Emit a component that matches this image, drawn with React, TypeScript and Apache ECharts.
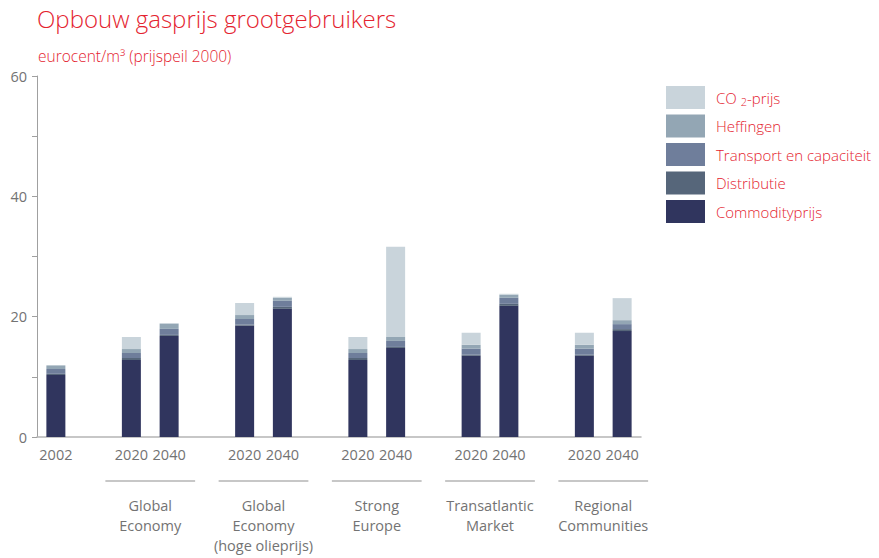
import React, { useEffect, useRef } from "react";
import * as echarts from "echarts";

const categories = ["2002", "", "2020", "2040", "", "2020", "2040", "", "2020", "2040", "", "2020", "2040", "", "2020", "2040"];
const commodity = [10.3, "-", 12.8, 16.8, "-", 18.5, 21.3, "-", 12.8, 14.8, "-", 13.5, 21.8, "-", 13.5, 17.6];
const distributie = [0.2, "-", 0.33, 0.17, "-", 0.17, 0.33, "-", 0.33, 0.17, "-", 0.17, 0.33, "-", 0.17, 0.33];
const transport = [0.8, "-", 0.83, 1.0, "-", 0.94, 1.0, "-", 0.83, 1.0, "-", 1.0, 1.0, "-", 1.0, 0.83];
const heffingen = [0.6, "-", 0.66, 0.83, "-", 0.66, 0.5, "-", 0.66, 0.66, "-", 0.66, 0.5, "-", 0.66, 0.66];
const co2 = [0, "-", 2.0, 0.15, "-", 2.0, 0.17, "-", 2.0, 15.0, "-", 2.0, 0.17, "-", 2.0, 3.66];
const yTicks = [0, 20, 40, 60];
const groupNames = ["Global\nEconomy", "Global\nEconomy\n(hoge olieprijs)", "Strong\nEurope", "Transatlantic\nMarket", "Regional\nCommunities"];
const groupFirstIndex = [2, 5, 8, 11, 14];

const RED = "#e4232f";
const GREY_TEXT = "#737373";
const FONT = "'Open Sans', 'DejaVu Sans', sans-serif";

const seriesDefs = [
  { name: "Commodityprijs", data: commodity, color: "#30355e" },
  { name: "Distributie", data: distributie, color: "#56667a" },
  { name: "Transport en capaciteit", data: transport, color: "#6f7e9b" },
  { name: "Heffingen", data: heffingen, color: "#93a6b4" },
  { name: "CO2-prijs", data: co2, color: "#c9d4db" },
];

export default function App() {
  const ref = useRef<HTMLDivElement>(null);
  useEffect(() => {
    if (!ref.current) return;
    const chart = echarts.init(ref.current, null, { renderer: "svg" });
    chart.setOption({
      animation: false,
      textStyle: { fontFamily: FONT },
      title: [
        {
          text: "Opbouw gasprijs grootgebruikers",
          left: 37,
          top: 6,
          padding: 0,
          textStyle: { color: RED, fontSize: 24, fontWeight: 300, fontFamily: FONT },
        },
        {
          text: "eurocent/m³ (prijspeil 2000)",
          left: 38,
          top: 48,
          padding: 0,
          textStyle: { color: RED, fontSize: 15.5, fontWeight: 300, fontFamily: FONT },
        },
      ],
      legend: {
        orient: "vertical",
        left: 666,
        top: 86,
        padding: 0,
        itemWidth: 39,
        itemHeight: 23,
        itemGap: 5.5,
        icon: "rect",
        data: ["CO2-prijs", "Heffingen", "Transport en capaciteit", "Distributie", "Commodityprijs"],
        formatter: (name: string) => (name === "CO2-prijs" ? "CO {sub|2}-prijs" : name),
        textStyle: {
          color: RED,
          fontSize: 15,
          fontWeight: 300,
          fontFamily: FONT,
          padding: [0, 0, 0, 6],
          rich: {
            sub: { fontSize: 11, color: RED, fontWeight: 300, fontFamily: FONT, padding: [8, 0, 0, 0] },
          },
        },
      },
      grid: { left: 37, right: 238, top: 76, bottom: 121, containLabel: false },
      xAxis: {
        type: "category",
        data: categories,
        axisLine: { lineStyle: { color: "#b5b5b5", width: 1.5 } },
        axisTick: { show: false },
        axisLabel: { color: GREY_TEXT, fontSize: 14.5, margin: 10, interval: 0, fontFamily: FONT },
      },
      yAxis: {
        type: "value",
        min: 0,
        max: 60,
        interval: 10,
        axisLine: { show: true, lineStyle: { color: "#a0a0a0", width: 1 } },
        axisTick: { show: true, inside: false, length: 5, lineStyle: { color: "#a0a0a0" } },
        splitLine: { show: false },
        axisLabel: {
          color: GREY_TEXT,
          fontSize: 14.5,
          margin: 10,
          fontFamily: FONT,
          formatter: (v: number) => (yTicks.includes(v) ? String(v) : ""),
        },
      },
      series: seriesDefs.map((s) => ({
        name: s.name,
        type: "bar",
        stack: "total",
        barWidth: 19,
        data: s.data,
        itemStyle: { color: s.color },
      })),
    });

    const y0 = chart.convertToPixel({ yAxisIndex: 0 }, 0) as number;
    const graphics: any[] = [];
    groupFirstIndex.forEach((idx, i) => {
      const xa = chart.convertToPixel({ xAxisIndex: 0 }, idx) as number;
      const xb = chart.convertToPixel({ xAxisIndex: 0 }, idx + 1) as number;
      const cx = (xa + xb) / 2;
      const half = (xb - xa) / 2 + 26;
      graphics.push({
        type: "line",
        shape: { x1: cx - half, y1: y0 + 44, x2: cx + half, y2: y0 + 44 },
        style: { stroke: "#b5b5b5", lineWidth: 1.5 },
        silent: true,
      });
      graphics.push({
        type: "text",
        x: cx,
        y: y0 + 58,
        style: {
          text: groupNames[i],
          fill: GREY_TEXT,
          fontSize: 14.5,
          fontFamily: FONT,
          lineHeight: 20,
          align: "center",
          verticalAlign: "top",
        },
        silent: true,
      });
    });
    chart.setOption({ graphic: graphics });

    return () => chart.dispose();
  }, []);
  return <div ref={ref} style={{ width: 879, height: 558, position: "absolute", left: 0, top: 0 }} />;
}
